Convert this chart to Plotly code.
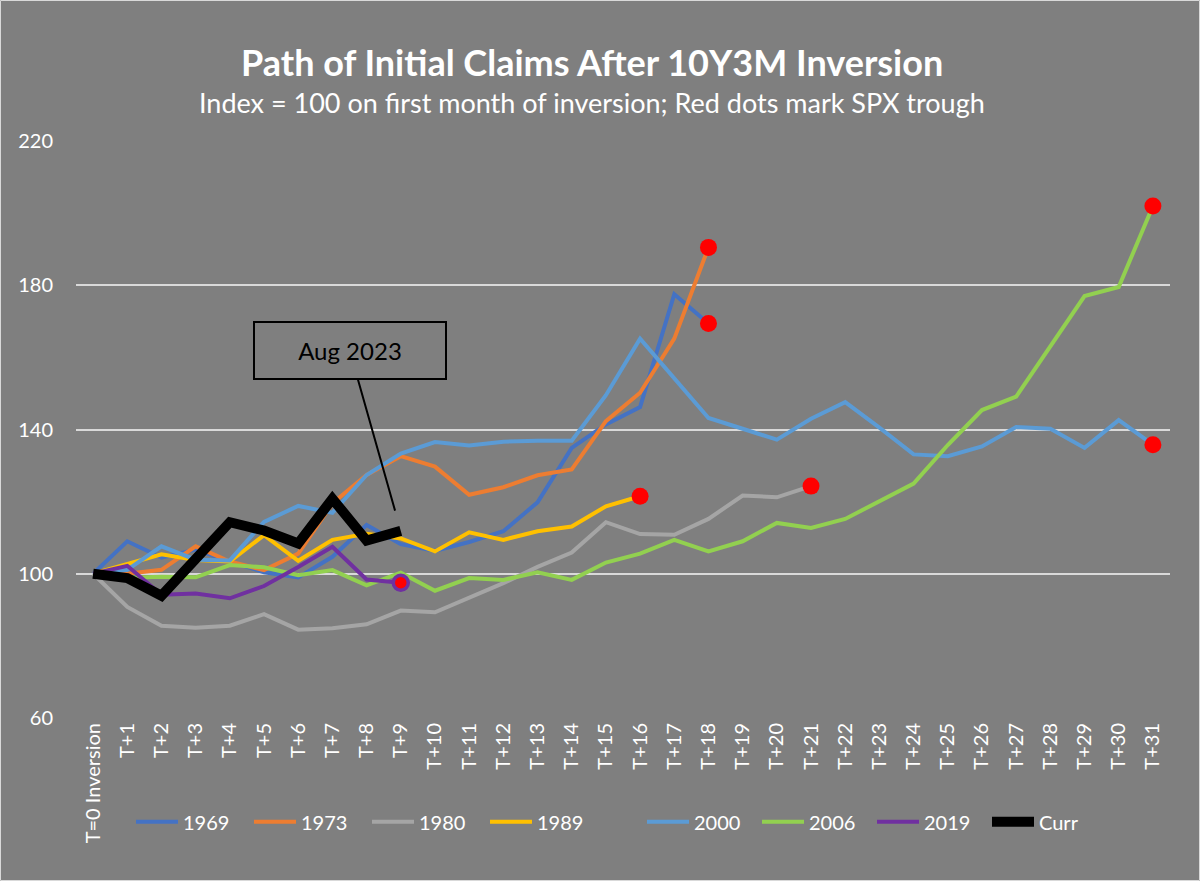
import plotly.graph_objects as go

categories = ["T=0 Inversion"] + [f"T+{i}" for i in range(1, 32)]

s1969 = [100, 109.0, 104.5, 106.7, 103.4, 100.4, 99.0, 104.7, 113.5, 108.2, 106.3, 108.8, 111.8,
         119.8, 134.9, 141.4, 146.2, 177.5, 169.4]
s1973 = [100, 100, 101.1, 107.6, 103.4, 101.0, 105.6, 119.5, 127.4, 132.6, 129.7, 121.9, 124.0,
         127.3, 128.9, 142.3, 150.2, 165.2, 190.5]
s1980 = [100, 90.8, 85.6, 85.0, 85.6, 88.8, 84.5, 84.9, 86.0, 89.8, 89.3, 93.2, 97.4, 101.9,
         105.9, 114.3, 111.0, 110.8, 115.2, 121.7, 121.2, 124.3]
s1989 = [100, 102.8, 105.4, 103.8, 103.4, 110.7, 103.6, 109.4, 111.1, 109.8, 106.2, 111.5, 109.4,
         111.8, 113.1, 118.7, 121.5]
s2000 = [100, 101.1, 107.6, 103.9, 103.7, 114.4, 118.8, 116.9, 127.4, 133.3, 136.5, 135.6, 136.6,
         136.9, 136.9, 149.5, 165.2, 154.1, 143.2, 140.2, 137.2, 143.0, 147.6, 140.5, 133.1, 132.6,
         135.3, 140.7, 140.2, 134.9, 142.6, 135.8]
s2006 = [100, 98.9, 99.2, 99.0, 102.4, 101.8, 99.6, 101.0, 96.8, 100.3, 95.3, 98.8, 98.3, 100.4,
         98.3, 103.1, 105.6, 109.4, 106.2, 109.0, 114.1, 112.7, 115.2, 120.1, 125.0, 135.7, 145.4,
         149.1, 163.1, 177.0, 179.5, 202.0]
s2019 = [100, 102.2, 94.2, 94.5, 93.2, 96.6, 101.9, 107.5, 98.4, 97.5]
curr = [100, 98.8, 93.9, 104.0, 114.3, 112.0, 108.4, 120.8, 109.2, 111.9]

series = [
    ("1969", s1969, "#4472C4", 4, "legend"),
    ("1973", s1973, "#ED7D31", 4, "legend"),
    ("1980", s1980, "#A5A5A5", 4, "legend"),
    ("1989", s1989, "#FFC000", 4, "legend"),
    ("2000", s2000, "#5B9BD5", 4, "legend2"),
    ("2006", s2006, "#92D050", 4, "legend2"),
    ("2019", s2019, "#7030A0", 4, "legend2"),
    ("Curr", curr, "#000000", 10, "legend2"),
]
trough_series = ["1969", "1973", "1980", "1989", "2000", "2006", "2019"]

FONT = "Lato"
BG = "#7F7F7F"
GRID = "#D9D9D9"

fig = go.Figure()
for name, vals, color, w, lg in series:
    fig.add_trace(go.Scatter(
        x=categories[:len(vals)], y=vals, name=name, mode="lines", legend=lg,
        line=dict(color=color, width=w), hoverinfo="x+y+name",
    ))

for name, vals, color, w, lg in series:
    if name in trough_series:
        is19 = name == "2019"
        fig.add_trace(go.Scatter(
            x=[categories[len(vals) - 1]], y=[vals[-1]], mode="markers", showlegend=False,
            marker=dict(color="#FF0000", size=15 if is19 else 17,
                        line=dict(color=color if is19 else "#FF0000", width=3.5 if is19 else 0)),
            hoverinfo="skip",
        ))

legend_common = dict(orientation="h", yanchor="middle", y=-0.18, xanchor="left",
                     font=dict(size=20, color="white"), bgcolor="rgba(0,0,0,0)",
                     itemwidth=42, entrywidthmode="pixels", traceorder="normal")

fig.update_layout(
    width=1200, height=881,
    paper_bgcolor=BG, plot_bgcolor=BG,
    margin=dict(l=76, r=30, t=141, b=163),
    font=dict(family=FONT, color="white", size=20),
    showlegend=True,
    legend=dict(legend_common, x=(131 - 76) / 1094, entrywidth=61),
    legend2=dict(legend_common, x=(642 - 76) / 1094, entrywidth=58),
    xaxis=dict(type="category", categoryorder="array", categoryarray=categories,
               range=[-0.5, 31.5], showgrid=False, zeroline=False, showline=False,
               tickangle=-90, tickfont=dict(size=20, color="white"), ticks="",
               automargin=False),
    yaxis=dict(range=[60, 220], tickvals=[60, 100, 140, 180, 220], showgrid=True,
               gridcolor=GRID, gridwidth=2, zeroline=False, showline=False, ticks="",
               tickfont=dict(size=20, color="white"), ticklabelstandoff=22, automargin=False),
    annotations=[
        dict(text="<b>Path of Initial Claims After 10Y3M Inversion</b>", xref="paper", yref="paper",
             x=0.4717, y=1.137, xanchor="center", yanchor="middle", showarrow=False,
             font=dict(family=FONT, size=36, color="white")),
        dict(text="Index = 100 on first month of inversion; Red dots mark SPX trough",
             xref="paper", yref="paper", x=0.4717, y=1.066, xanchor="center", yanchor="middle",
             showarrow=False, font=dict(family=FONT, size=27, color="white")),
        dict(text="Aug 2023", x=categories[len(curr) - 1], y=curr[-1], xref="x", yref="y",
             showarrow=True, arrowhead=0, arrowwidth=2, arrowcolor="black", ax=-51, ay=-180,
             standoff=21, font=dict(family=FONT, size=24, color="black"),
             bordercolor="black", borderwidth=2, width=188, height=53, bgcolor="rgba(0,0,0,0)"),
    ],
    shapes=[
        dict(type="rect", xref="paper", yref="paper",
             x0=(0.5 - 76) / 1094, x1=(1199.5 - 76) / 1094,
             y0=(718 - 880.5) / 577, y1=(718 - 0.5) / 577,
             line=dict(color=GRID, width=1), fillcolor="rgba(0,0,0,0)", layer="below"),
    ],
)

fig.write_html("out.html")
